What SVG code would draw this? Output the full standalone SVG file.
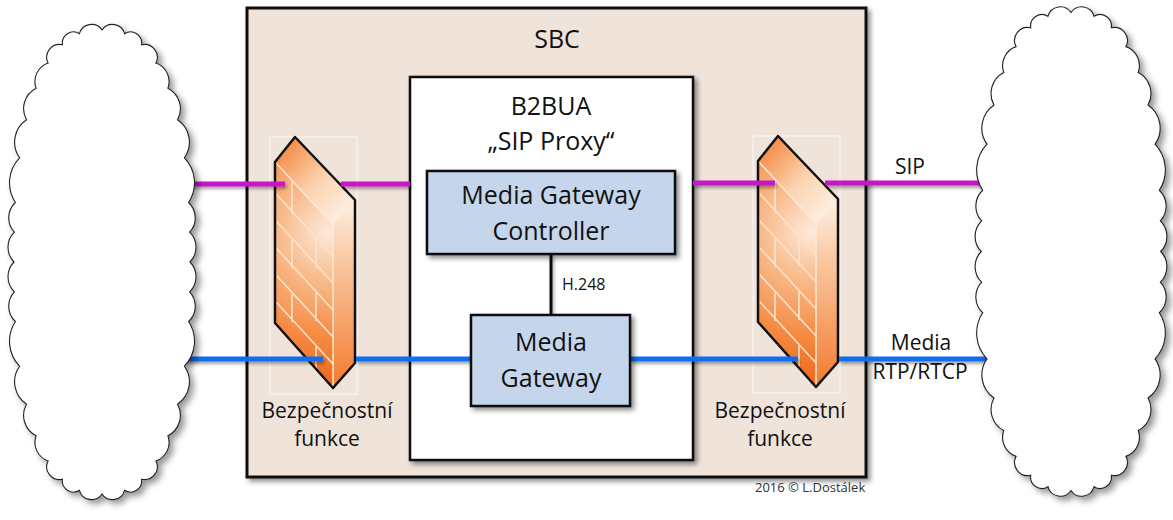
<svg xmlns="http://www.w3.org/2000/svg" width="1173" height="520" viewBox="0 0 1173 520">
  <style>
    .lbl { font-family: "Open Sans", "Liberation Sans", sans-serif; fill: #111; text-anchor: middle; }
    .big { font-size: 25px; }
    .mid { font-size: 21px; }
    .small { font-size: 16px; text-anchor: start; }
    .copy { font-size: 13px; text-anchor: start; fill: #333; }
    .box { stroke: #111; stroke-width: 2.5; }
    .sip { stroke: #c614c8; stroke-width: 5; fill: none; }
    .rtp { stroke: #0f6ef2; stroke-width: 5; fill: none; }
    .brick { stroke: #fde3cc; stroke-width: 1.6; fill: none; stroke-linecap: round; }
    .edge { stroke: #fdebd9; stroke-width: 1.4; fill: none; }
    .cloud { fill: #fff; stroke: #222; stroke-width: 1.1; }
  </style>
  <defs>
    <filter id="shadow" x="-10%" y="-10%" width="130%" height="130%">
      <feDropShadow dx="3" dy="3" stdDeviation="2.5" flood-color="#000" flood-opacity="0.45"/>
    </filter>
    <filter id="lineShadow" x="-5%" y="-100%" width="110%" height="400%">
      <feDropShadow dx="1.5" dy="2.5" stdDeviation="1.5" flood-color="#000" flood-opacity="0.35"/>
    </filter>
    <filter id="cloudShadow" x="-15%" y="-5%" width="130%" height="112%">
      <feDropShadow dx="4" dy="4" stdDeviation="3" flood-color="#000" flood-opacity="0.4"/>
    </filter>
    <radialGradient id="frontFace" gradientUnits="userSpaceOnUse" cx="328" cy="232" r="150">
      <stop offset="0" stop-color="#fdeadb"/>
      <stop offset="0.3" stop-color="#f9be90"/>
      <stop offset="0.7" stop-color="#f58a42"/>
      <stop offset="1" stop-color="#ef6a1c"/>
    </radialGradient>
    <linearGradient id="sideFace" x1="0" y1="0" x2="0" y2="1">
      <stop offset="0" stop-color="#fef1e4"/>
      <stop offset="0.35" stop-color="#f9c59c"/>
      <stop offset="1" stop-color="#f37a2e"/>
    </linearGradient>
    <linearGradient id="topFace" gradientUnits="userSpaceOnUse" x1="280" y1="150" x2="345" y2="212">
      <stop offset="0" stop-color="#f58a44"/>
      <stop offset="0.55" stop-color="#fbd3b0"/>
      <stop offset="1" stop-color="#fdeedf"/>
    </linearGradient>
    <!-- scalloped cloud outline, centred on the origin -->
    <path id="cloudShape" d="M0,-232 A12.6,12.6 0 0 1 22.6,-228.3 A11.1,11.1 0 0 1 39.5,-217.2 A12.8,12.8 0 0 1 53.9,-198.9 A19.5,19.5 0 0 1 65.9,-173.8 A23,23 0 0 1 75.5,-142.2 A27,27 0 0 1 82.4,-104.2 A36,36 0 0 1 86.6,-59.5 A21,21 0 0 1 87.6,-29.8 A21,21 0 0 1 88,0 A21,21 0 0 1 87.6,29.8 A21,21 0 0 1 86.6,59.5 A36,36 0 0 1 82.4,104.2 A27,27 0 0 1 75.5,142.2 A23,23 0 0 1 65.9,173.8 A19.5,19.5 0 0 1 53.9,198.9 A12.8,12.8 0 0 1 39.5,217.2 A11.1,11.1 0 0 1 22.6,228.3 A12.6,12.6 0 0 1 0,232 A12.6,12.6 0 0 1 -22.6,228.3 A11.1,11.1 0 0 1 -39.5,217.2 A12.8,12.8 0 0 1 -53.9,198.9 A19.5,19.5 0 0 1 -65.9,173.8 A23,23 0 0 1 -75.5,142.2 A27,27 0 0 1 -82.4,104.2 A36,36 0 0 1 -86.6,59.5 A21,21 0 0 1 -87.6,29.8 A21,21 0 0 1 -88,0 A21,21 0 0 1 -87.6,-29.8 A21,21 0 0 1 -86.6,-59.5 A36,36 0 0 1 -82.4,-104.2 A27,27 0 0 1 -75.5,-142.2 A23,23 0 0 1 -65.9,-173.8 A19.5,19.5 0 0 1 -53.9,-198.9 A12.8,12.8 0 0 1 -39.5,-217.2 A11.1,11.1 0 0 1 -22.6,-228.3 A12.6,12.6 0 0 1 0,-232 Z"/>
    <!-- brick wall firewall, drawn at the left position -->
    <g id="firewallShape">
      <rect x="270" y="137" width="87" height="257" fill="none" stroke="#fbf7f3" stroke-width="1"/>
      <path d="M275,162 L333,225 L333,388 L275,323 Z" fill="url(#frontFace)"/>
      <path d="M275,162 L295,137 L355,200 L333,225 Z" fill="url(#topFace)"/>
      <path d="M333,225 L355,200 L355,363 L333,388 Z" fill="url(#sideFace)"/>
      <path class="brick" d="M277,195 L333,256 M277,222 L333,283 M277,249 L333,310 M277,276 L333,337 M277,303 L333,364 M292,180.5 V213.5 M316,239.5 V266.5 M292,240.5 V267.5 M316,293.5 V320.5 M292,294.5 V321.5 M316,347.5 V368"/>
      <path class="edge" d="M276,163 L333,225 V387"/>
      <path d="M275,162 L295,137 L355,200 L355,363 L333,388 L275,323 Z" fill="none" stroke="#111" stroke-width="2.5" stroke-linejoin="round"/>
    </g>
  </defs>

  <!-- session border controller -->
  <g id="sbc">
    <rect x="247" y="8" width="619" height="469" fill="#efe3da" stroke="#111" stroke-width="3" filter="url(#shadow)"/>
    <text class="lbl big" x="557" y="48">SBC</text>
  </g>

  <!-- back-to-back user agent -->
  <g id="b2bua">
    <rect class="box" x="410" y="77" width="283" height="383" fill="#fff" filter="url(#shadow)"/>
    <text class="lbl big" x="551" y="115">B2BUA</text>
    <text class="lbl big" x="551" y="150">„SIP Proxy“</text>
  </g>

  <g id="firewall-left">
    <use href="#firewallShape"/>
    <text class="lbl mid" x="327" y="418">Bezpečnostní</text>
    <text class="lbl mid" x="327" y="446">funkce</text>
  </g>

  <g id="firewall-right">
    <use href="#firewallShape" transform="translate(483,-1)"/>
    <text class="lbl mid" x="780" y="418">Bezpečnostní</text>
    <text class="lbl mid" x="780" y="446">funkce</text>
  </g>

  <!-- signalling (SIP), media (RTP/RTCP) and H.248 links -->
  <g id="connectors" filter="url(#lineShadow)">
    <path class="sip" d="M150,184 H285"/>
    <path class="sip" d="M341,184 H410"/>
    <path class="sip" d="M693,183 H775"/>
    <path class="sip" d="M825,183 H1010"/>
    <path class="rtp" d="M150,359 H323"/>
    <path class="rtp" d="M356,359 H471"/>
    <path class="rtp" d="M630,359 H798"/>
    <path class="rtp" d="M839,359 H1020"/>
    <path d="M551,254 V315" stroke="#111" stroke-width="3"/>
  </g>

  <g id="mgc">
    <rect class="box" x="427" y="171" width="248" height="83" fill="#c5d6ec" filter="url(#shadow)"/>
    <text class="lbl big" x="551" y="204">Media Gateway</text>
    <text class="lbl big" x="551" y="240">Controller</text>
  </g>

  <g id="mg">
    <rect class="box" x="471" y="315" width="159" height="91" fill="#c5d6ec" filter="url(#shadow)"/>
    <text class="lbl big" x="551" y="351">Media</text>
    <text class="lbl big" x="551" y="387">Gateway</text>
  </g>

  <g id="cloud-left">
    <use href="#cloudShape" class="cloud" transform="translate(102,262)" filter="url(#cloudShadow)"/>
  </g>

  <g id="cloud-right">
    <use href="#cloudShape" class="cloud" transform="translate(1071,251.5) scale(1.02,1.03)" filter="url(#cloudShadow)"/>
  </g>

  <g id="labels">
    <text class="lbl small" x="562" y="290">H.248</text>
    <text class="lbl mid" x="910" y="174">SIP</text>
    <text class="lbl mid" x="921" y="350">Media</text>
    <text class="lbl mid" x="920" y="379">RTP/RTCP</text>
    <text class="lbl copy" x="755" y="492">2016 © L.Dostálek</text>
  </g>
</svg>
